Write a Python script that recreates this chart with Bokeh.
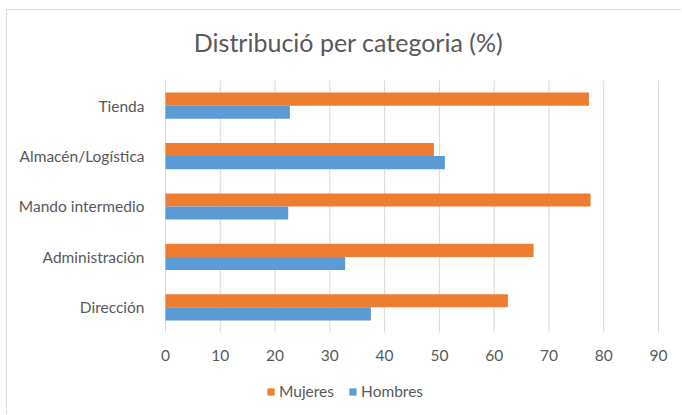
from bokeh.plotting import figure
from bokeh.models import Legend, LegendItem, Label, FixedTicker, Range1d, ColumnDataSource
from bokeh.transform import dodge
from bokeh.embed import file_html
from bokeh.resources import INLINE

categories = ["Dirección", "Administración", "Mando intermedio", "Almacén/Logística", "Tienda"]
mujeres = [62.5, 67.2, 77.6, 49.0, 77.3]
hombres = [37.5, 32.8, 22.4, 51.0, 22.7]
x_ticks = [0, 10, 20, 30, 40, 50, 60, 70, 80, 90]
x_tick_labels = ["0", "10", "20", "30", "40", "50", "60", "70", "80", "90"]
title_text = "Distribució per categoria (%)"

FONT = "Lato"
GREY = "#595959"
GRID = "#d9d9d9"

n = len(categories)
pos = list(range(n))
lo, hi = -0.5, n - 0.5

W, H = 675, 405
p = figure(width=W, height=H, output_backend="svg", toolbar_location=None,
           x_range=Range1d(-2.738, 92.556), y_range=Range1d(-2.0675, 5.8095),
           min_border_left=143, min_border_right=10, min_border_top=4, min_border_bottom=4,
           styles={"border-top": "1px solid #d9d9d9", "border-left": "1px solid #d9d9d9",
                   "margin-left": "6px", "margin-top": "9px"})
p.title = None
p.outline_line_color = None
p.background_fill_color = "white"
p.border_fill_color = "white"
p.xgrid.grid_line_color = None
p.ygrid.grid_line_color = None
p.xaxis.visible = False

# vertical gridlines at the x ticks, spanning the category area
p.segment(x0=x_ticks, x1=x_ticks, y0=[lo] * len(x_ticks), y1=[hi] * len(x_ticks),
          line_color=GRID, line_width=1)

src = ColumnDataSource(dict(pos=pos, cat=categories, m=mujeres, h=hombres))
rm = p.hbar(y=dodge("pos", 0.13), right="m", left=0, height=0.26,
            source=src, fill_color="#ED7D31", line_color=None)
rh = p.hbar(y=dodge("pos", -0.13), right="h", left=0, height=0.26,
            source=src, fill_color="#5B9BD5", line_color=None)

# x tick labels below the category area
p.text(x=x_ticks, y=[lo] * len(x_ticks), text=x_tick_labels, y_offset=23,
       text_align="center", text_baseline="middle", text_font={"value": FONT},
       text_font_size={"value": "15.5px"}, text_color=GREY)

ya = p.yaxis[0]
ya.ticker = FixedTicker(ticks=pos)
ya.major_label_overrides = {i: c for i, c in zip(pos, categories)}
ya.axis_line_color = None
ya.major_tick_line_color = None
ya.minor_tick_line_color = None
ya.major_label_text_font = FONT
ya.major_label_text_font_size = "15.5px"
ya.major_label_text_color = GREY
ya.major_label_standoff = 0

p.add_layout(Label(x=198, y=370, x_units="screen", y_units="screen", text=title_text,
                   text_font=FONT, text_font_size="25px", text_color=GREY,
                   text_align="center", text_baseline="middle"))

legend = Legend(items=[LegendItem(label="Mujeres", renderers=[rm]),
                       LegendItem(label="Hombres", renderers=[rh])],
                location=(116, 11), orientation="horizontal",
                glyph_width=9, glyph_height=9, label_text_font=FONT,
                label_text_font_size="15.5px", label_text_color=GREY,
                label_standoff=4, spacing=14, padding=0, margin=0,
                border_line_color=None, background_fill_alpha=0)
p.add_layout(legend, "center")

open("out.html", "w").write(file_html(p, INLINE))
